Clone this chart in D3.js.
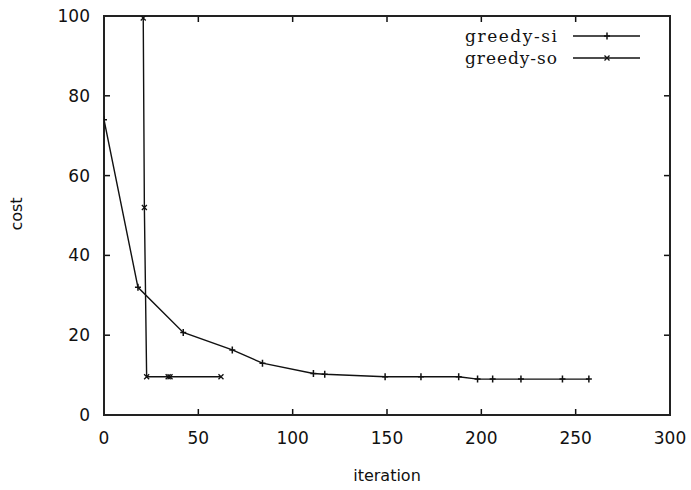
<!DOCTYPE html>
<html>
<head>
<meta charset="utf-8">
<script src="https://cdn.jsdelivr.net/npm/d3@7"></script>
<style>
  body { margin: 0; background: #fff; }
  text { fill: #111; }
</style>
</head>
<body>
<script>
// values
var siIter = [0, 18, 42, 68, 84, 111, 117, 149, 168, 188, 198, 206, 221, 243, 257];
var siCost = [74, 32, 20.7, 16.3, 13, 10.4, 10.2, 9.6, 9.6, 9.6, 9.0, 9.0, 9.0, 9.0, 9.0];
var soIter = [20.8, 21.4, 22.6, 34, 35, 62];
var soCost = [99.5, 52, 9.6, 9.6, 9.6, 9.6];
var xTicks = [0, 50, 100, 150, 200, 250, 300];
var yTicks = [0, 20, 40, 60, 80, 100];
var seriesNames = ["greedy-si", "greedy-so"];

function drawChart(){
  var W = 691, H = 490;
  var pL = 104, pR = 670, pT = 16, pB = 415;

  var svg = d3.select("body").append("svg")
      .attr("width", W)
      .attr("height", H);

  var x = d3.scaleLinear().domain([0, 300]).range([pL, pR]);
  var y = d3.scaleLinear().domain([0, 100]).range([pB, pT]);

  // clip for the data
  svg.append("clipPath").attr("id", "plot")
    .append("rect")
      .attr("x", pL).attr("y", pT)
      .attr("width", pR - pL).attr("height", pB - pT);

  // ticks, inward on all four sides
  var tk = 6;
  xTicks.forEach(function(v){
    svg.append("line").attr("x1", x(v)).attr("x2", x(v))
       .attr("y1", pB).attr("y2", pB - tk)
       .attr("stroke", "#111").attr("stroke-width", 1.5);
    svg.append("line").attr("x1", x(v)).attr("x2", x(v))
       .attr("y1", pT).attr("y2", pT + tk)
       .attr("stroke", "#111").attr("stroke-width", 1.5);
    svg.append("text")
       .attr("x", x(v)).attr("y", pB + 29)
       .attr("text-anchor", "middle")
       .style("font-family", "DejaVu Sans")
       .style("font-size", "17px")
       .text(v);
  });
  yTicks.forEach(function(v){
    svg.append("line").attr("x1", pL).attr("x2", pL + tk)
       .attr("y1", y(v)).attr("y2", y(v))
       .attr("stroke", "#111").attr("stroke-width", 1.5);
    svg.append("line").attr("x1", pR).attr("x2", pR - tk)
       .attr("y1", y(v)).attr("y2", y(v))
       .attr("stroke", "#111").attr("stroke-width", 1.5);
    svg.append("text")
       .attr("x", 90).attr("y", y(v) + 6)
       .attr("text-anchor", "end")
       .style("font-family", "DejaVu Sans")
       .style("font-size", "17px")
       .text(v);
  });

  // border
  svg.append("rect")
     .attr("x", pL).attr("y", pT)
     .attr("width", pR - pL).attr("height", pB - pT)
     .attr("fill", "none")
     .attr("stroke", "#222")
     .attr("stroke-width", 2);

  // axis titles
  svg.append("text")
     .attr("x", 387).attr("y", 481)
     .attr("text-anchor", "middle")
     .style("font-family", "DejaVu Sans")
     .style("font-size", "16px")
     .text("iteration");
  svg.append("text")
     .attr("transform", "translate(22,214) rotate(-90)")
     .attr("text-anchor", "middle")
     .style("font-family", "DejaVu Sans")
     .style("font-size", "16px")
     .text("cost");

  var line = d3.line()
      .x(function(d){ return x(d[0]); })
      .y(function(d){ return y(d[1]); });

  var si = d3.zip(siIter, siCost);
  var so = d3.zip(soIter, soCost);

  var g = svg.append("g").attr("clip-path", "url(#plot)");

  g.append("path").datum(si)
     .attr("d", line)
     .attr("fill", "none").attr("stroke", "#111").attr("stroke-width", 1.4);
  g.append("path").datum(so)
     .attr("d", line)
     .attr("fill", "none").attr("stroke", "#111").attr("stroke-width", 1.4);

  function plus(sel, cx, cy){
    sel.append("path")
       .attr("d", "M" + (cx - 3) + "," + cy + "H" + (cx + 3) +
                  "M" + cx + "," + (cy - 3.5) + "V" + (cy + 3.5))
       .attr("stroke", "#111").attr("stroke-width", 1.5);
  }
  function cross(sel, cx, cy){
    sel.append("path")
       .attr("d", "M" + (cx - 2.5) + "," + (cy - 2.5) + "L" + (cx + 2.5) + "," + (cy + 2.5) +
                  "M" + (cx + 2.5) + "," + (cy - 2.5) + "L" + (cx - 2.5) + "," + (cy + 2.5))
       .attr("stroke", "#111").attr("stroke-width", 1.3);
  }

  si.forEach(function(d){ plus(g, x(d[0]), y(d[1])); });
  so.forEach(function(d){ cross(g, x(d[0]), y(d[1])); });

  // legend
  var legY = [36, 58];
  seriesNames.forEach(function(name, i){
    svg.append("text")
       .attr("x", 557).attr("y", legY[i] + 6)
       .attr("text-anchor", "end")
       .attr("textLength", 92)
       .attr("lengthAdjust", "spacing")
       .style("font-family", "DejaVu Serif")
       .style("font-size", "17px")
       .text(name);
    svg.append("line")
       .attr("x1", 573).attr("x2", 640)
       .attr("y1", legY[i]).attr("y2", legY[i])
       .attr("stroke", "#111").attr("stroke-width", 1.4);
    if (i === 0) plus(svg, 607, legY[i]);
    else cross(svg, 607, legY[i]);
  });
}
drawChart();
</script>
</body>
</html>
